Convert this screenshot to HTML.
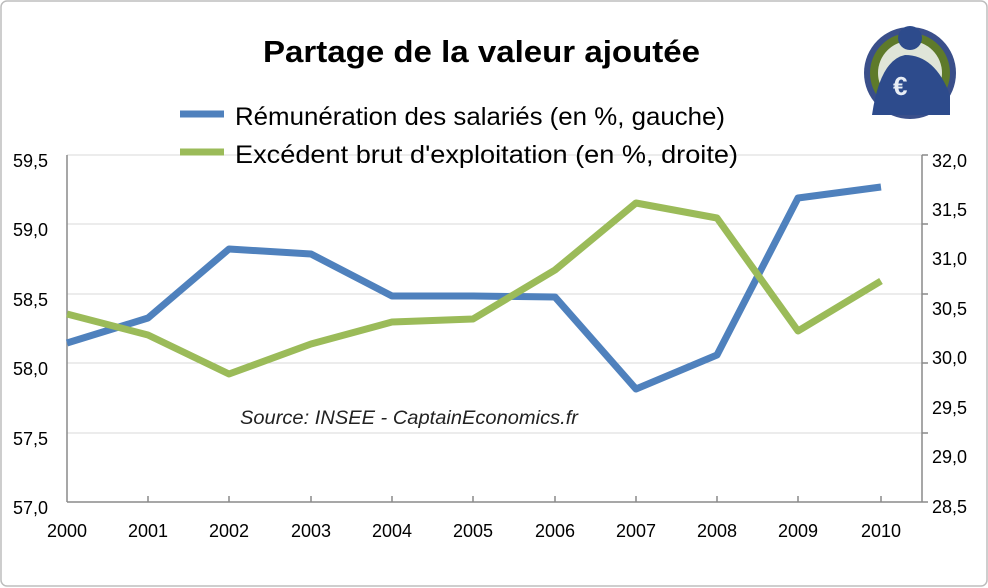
<!DOCTYPE html>
<html><head><meta charset="utf-8"><style>
body{margin:0;background:#fff}
svg{display:block;font-family:"Liberation Sans","DejaVu Sans",sans-serif}
</style></head><body>
<svg width="988" height="588" viewBox="0 0 988 588">
<rect x="1" y="1" width="986" height="585" rx="6" fill="#fff" stroke="#bdbdbd" stroke-width="1.5"/>
<g stroke="#dadada" stroke-width="1">
<line x1="67" y1="155" x2="922" y2="155"/><line x1="67" y1="224" x2="922" y2="224"/>
<line x1="67" y1="294" x2="922" y2="294"/><line x1="67" y1="363" x2="922" y2="363"/>
<line x1="67" y1="433" x2="922" y2="433"/>
</g>
<g stroke="#8a8a8a" stroke-width="1.5" fill="none">
<line x1="67" y1="155" x2="67" y2="502"/><line x1="922" y1="155" x2="922" y2="502"/>
<line x1="67" y1="502" x2="922" y2="502"/>
<path d="M148 502v-6M229 502v-6M311 502v-6M392 502v-6M473 502v-6M555 502v-6M636 502v-6M717 502v-6M798 502v-6M881 502v-6"/>
<path d="M922 155h6M922 224h6M922 294h6M922 363h6M922 433h6M922 502h6"/>
</g>
<g font-size="18" fill="#000" text-anchor="end">
<text x="48" y="167">59,5</text><text x="48" y="236">59,0</text><text x="48" y="306">58,5</text>
<text x="48" y="375">58,0</text><text x="48" y="445">57,5</text><text x="48" y="514">57,0</text>
</g>
<g font-size="18" fill="#000">
<text x="932" y="167">32,0</text><text x="932" y="216">31,5</text><text x="932" y="265">31,0</text>
<text x="932" y="315">30,5</text><text x="932" y="364">30,0</text><text x="932" y="414">29,5</text>
<text x="932" y="463">29,0</text><text x="932" y="513">28,5</text>
</g>
<g font-size="18" fill="#000" text-anchor="middle">
<text x="67" y="537">2000</text><text x="148" y="537">2001</text><text x="229" y="537">2002</text>
<text x="311" y="537">2003</text><text x="392" y="537">2004</text><text x="473" y="537">2005</text>
<text x="555" y="537">2006</text><text x="636" y="537">2007</text><text x="717" y="537">2008</text>
<text x="798" y="537">2009</text><text x="881" y="537">2010</text>
</g>
<polyline fill="none" stroke="#4f81bd" stroke-width="7" stroke-linejoin="round" points="67,343 148,318 229,249 311,254 392,296 473,296 555,297 636,389 717,355 798,198 881,187"/>
<polyline fill="none" stroke="#9bbb59" stroke-width="7" stroke-linejoin="round" points="67,314 148,335 229,374 311,344 392,322 473,319 555,270 636,203 717,218 798,331 881,281"/>
<text x="263" y="62" font-size="31" font-weight="bold" textLength="437" lengthAdjust="spacingAndGlyphs">Partage de la valeur ajoutée</text>
<line x1="180" y1="114" x2="224" y2="114" stroke="#4f81bd" stroke-width="7"/>
<text x="235" y="125" font-size="25" textLength="490" lengthAdjust="spacingAndGlyphs">Rémunération des salariés (en %, gauche)</text>
<line x1="180" y1="152" x2="224" y2="152" stroke="#9bbb59" stroke-width="7"/>
<text x="235" y="163" font-size="25" textLength="503" lengthAdjust="spacingAndGlyphs">Excédent brut d'exploitation (en %, droite)</text>
<text x="240" y="424" font-size="19" font-style="italic" fill="#222" textLength="338" lengthAdjust="spacingAndGlyphs">Source: INSEE - CaptainEconomics.fr</text>
<circle cx="910" cy="73" r="46" fill="#3a4f8a"/>
<circle cx="910" cy="73" r="40" fill="#5e7a2a"/>
<circle cx="910" cy="73" r="32" fill="#dfe5d8"/>
<path d="M872 115 Q880 60 905 55 Q935 55 950 95 L950 115 Z" fill="#2d4b8c"/>
<circle cx="910" cy="38" r="12" fill="#2d4b8c"/>
<text x="893" y="95" font-size="26" font-weight="bold" fill="#e8eef5">€</text>
</svg>
</body></html>
